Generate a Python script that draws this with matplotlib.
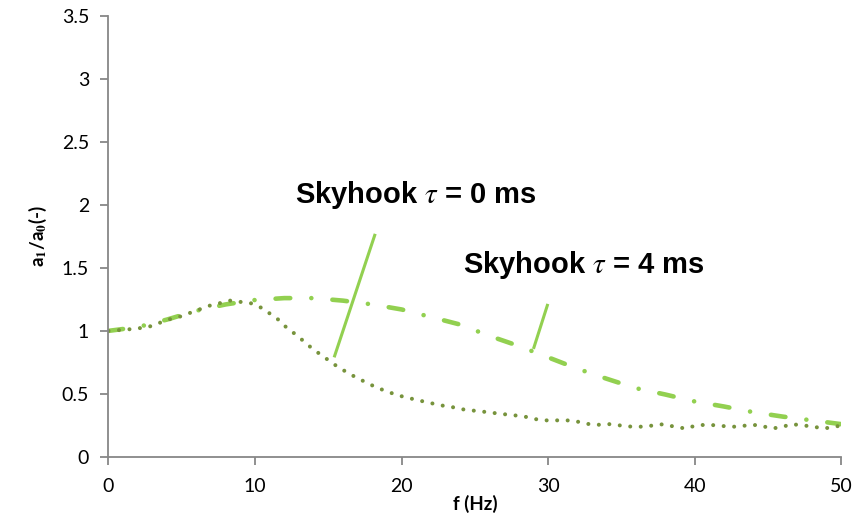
import matplotlib
matplotlib.use('Agg')
import matplotlib.pyplot as plt

plt.rcParams['font.family'] = ['Lato', 'DejaVu Sans']
plt.rcParams['mathtext.fontset'] = 'stix'

# Skyhook tau = 0 ms (dotted, olive)
f0 = [0, 1.2, 2.0, 2.7, 3.4, 4.1, 4.8, 5.5, 6.2, 6.9, 7.6, 8.3, 9.0, 9.7, 10.5, 11.1,
      11.7, 12.2, 12.8, 13.4, 13.9, 14.5, 15.1, 15.7, 16.3, 16.9, 17.6, 18.3, 19.0, 19.7,
      20.4, 21.1, 21.9, 22.6, 23.3, 24.0, 24.7, 25.5, 26.2, 26.9, 27.7, 28.4, 29.1, 29.9,
      30.6, 31.3, 32.0, 32.8, 33.5, 34.2, 34.9, 35.7, 36.5, 37.2, 37.9, 38.6, 39.4, 40.1,
      40.8, 41.6, 42.3, 43.0, 43.8, 44.5, 45.2, 45.9, 46.6, 47.4, 48.1, 48.8, 49.6, 50.0]
a0 = [1.0, 1.01, 1.02, 1.03, 1.06, 1.09, 1.11, 1.14, 1.17, 1.2, 1.22, 1.24, 1.23, 1.22,
      1.18, 1.13, 1.08, 1.02, 0.97, 0.91, 0.86, 0.81, 0.76, 0.71, 0.67, 0.63, 0.59, 0.55,
      0.52, 0.49, 0.47, 0.45, 0.43, 0.41, 0.40, 0.38, 0.37, 0.36, 0.35, 0.34, 0.33, 0.32,
      0.30, 0.29, 0.29, 0.29, 0.28, 0.26, 0.255, 0.26, 0.25, 0.24, 0.24, 0.25, 0.26, 0.24,
      0.225, 0.25, 0.255, 0.25, 0.24, 0.24, 0.255, 0.25, 0.225, 0.235, 0.26, 0.25, 0.24,
      0.225, 0.24, 0.25]

# Skyhook tau = 4 ms (dash-dot, light green)
f4 = [0, 2, 4, 6, 8, 10, 12, 14, 16, 18, 20, 22, 24, 26, 28, 30, 32, 34, 36, 38, 40,
      42, 44, 46, 48, 50]
a4 = [1.0, 1.03, 1.09, 1.16, 1.21, 1.245, 1.26, 1.26, 1.24, 1.21, 1.17, 1.11, 1.05,
      0.96, 0.88, 0.79, 0.70, 0.62, 0.545, 0.495, 0.44, 0.40, 0.355, 0.32, 0.29, 0.26]

# annotation pointer lines
ptr0_x = [15.4, 18.2]
ptr0_y = [0.79, 1.77]
ptr4_x = [29.0, 29.98]
ptr4_y = [0.857, 1.214]

olive = '#77933c'
light = '#92d050'
grey = '#878787'

fig = plt.figure(figsize=(8.61, 5.27), dpi=100)
ax = fig.add_axes([0.126, 0.133, 0.851, 0.837])

ax.plot(f4, a4, color=light, lw=3.3, linestyle=(0, (3.2, 4.6, 0.01, 4.6)),
        dash_capstyle='round', solid_capstyle='round')
ax.plot(f0, a0, color=olive, lw=2.9, linestyle=(0, (0.01, 2.6)),
        dash_capstyle='round')
ax.plot(ptr0_x, ptr0_y, color=light, lw=2.2, solid_capstyle='butt')
ax.plot(ptr4_x, ptr4_y, color=light, lw=2.2, solid_capstyle='butt')

ax.text(12.75, 2.08, r'Skyhook $\tau$ = 0 ms', fontsize=21, fontweight='bold',
        family='Liberation Sans', va='center', ha='left')
ax.text(24.2, 1.52, r'Skyhook $\tau$ = 4 ms', fontsize=21, fontweight='bold',
        family='Liberation Sans', va='center', ha='left')

ax.set_xlim(0, 50)
ax.set_ylim(0, 3.5)
ax.set_xticks([0, 10, 20, 30, 40, 50])
ax.set_yticks([0, 0.5, 1, 1.5, 2, 2.5, 3, 3.5])
ax.set_yticklabels(['0', '0.5', '1', '1.5', '2', '2.5', '3', '3.5'])

for s in ['top', 'right']:
    ax.spines[s].set_visible(False)
for s in ['left', 'bottom']:
    ax.spines[s].set_color(grey)
    ax.spines[s].set_linewidth(1.3)
ax.tick_params(axis='both', colors=grey, width=1.3, length=6, labelsize=14,
               labelcolor='black')
ax.tick_params(axis='x', pad=9)
ax.tick_params(axis='y', pad=8)

ax.set_xlabel('f (Hz)', fontsize=13.5, fontweight='bold', labelpad=0)
ax.set_ylabel(r'a$_\mathbf{1}$/a$_\mathbf{0}$(-)', fontsize=13.5, fontweight='bold',
              labelpad=9)

fig.savefig('out.png', dpi=100)
